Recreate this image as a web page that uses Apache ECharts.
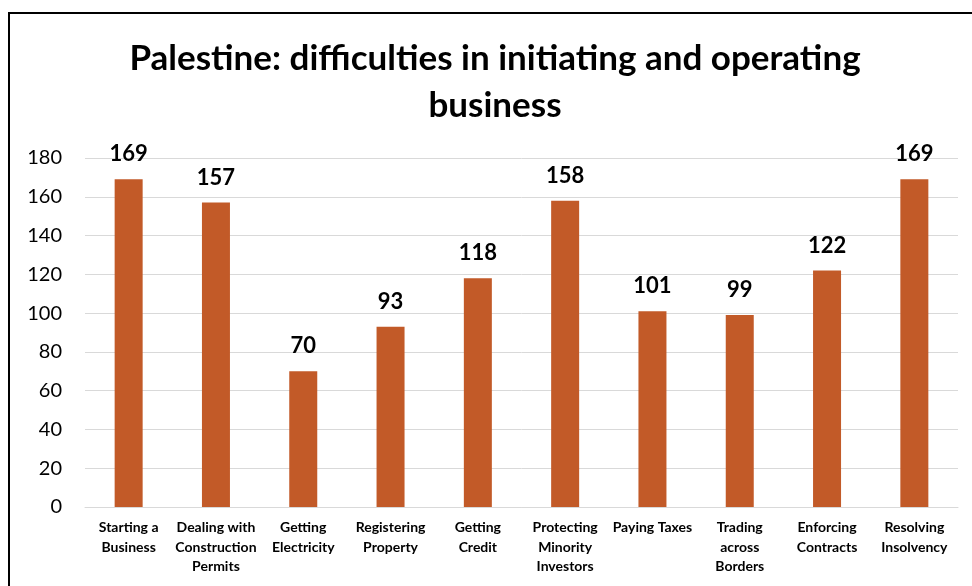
<!DOCTYPE html>
<html>
<head>
<meta charset="utf-8">
<script src="https://cdn.jsdelivr.net/npm/echarts@6/dist/echarts.min.js"></script>
<style>
  html, body { margin: 0; padding: 0; background: #ffffff; }
  #chart { width: 972px; height: 586px; }
</style>
</head>
<body>
<div id="chart"></div>
<script>
// Doing Business indicators (rank) for Palestine
const categories = [
  'Starting a\nBusiness',
  'Dealing with\nConstruction\nPermits',
  'Getting\nElectricity',
  'Registering\nProperty',
  'Getting\nCredit',
  'Protecting\nMinority\nInvestors',
  'Paying Taxes',
  'Trading\nacross\nBorders',
  'Enforcing\nContracts',
  'Resolving\nInsolvency'
];
const ranks = [169, 157, 70, 93, 118, 158, 101, 99, 122, 169];
const yTicks = [0, 20, 40, 60, 80, 100, 120, 140, 160, 180];

const FONT = 'Lato, "Open Sans", sans-serif';

const chart = echarts.init(document.getElementById('chart'), null, { renderer: 'canvas' });
chart.setOption({
  animation: false,
  backgroundColor: '#ffffff',
  title: {
    text: 'Palestine: difficulties in initiating and operating\nbusiness',
    left: 490,
    textAlign: 'center',
    top: 30,
    textStyle: {
      fontFamily: FONT,
      fontWeight: 'bold',
      fontSize: 35,
      lineHeight: 47,
      color: '#000000'
    }
  },
  graphic: [{
    type: 'rect',
    shape: { x: 9, y: 13, width: 1200, height: 1000 },
    style: { fill: 'none', stroke: '#000000', lineWidth: 2 },
    silent: true
  }],
  grid: { left: 85, right: 14, top: 158, bottom: 79 },
  xAxis: {
    type: 'category',
    data: categories,
    axisLine: { lineStyle: { color: '#D9D9D9', width: 1 } },
    axisTick: { show: false },
    axisLabel: {
      interval: 0,
      margin: 11,
      fontFamily: FONT,
      fontWeight: 'bold',
      fontSize: 14,
      lineHeight: 19.5,
      color: '#000000'
    }
  },
  yAxis: {
    type: 'value',
    min: yTicks[0],
    max: yTicks[yTicks.length - 1],
    interval: 20,
    axisLine: { show: false },
    axisTick: { show: false },
    splitLine: { lineStyle: { color: '#D9D9D9', width: 1 } },
    axisLabel: {
      margin: 23,
      fontFamily: FONT,
      fontSize: 20,
      color: '#000000'
    }
  },
  series: [{
    type: 'bar',
    data: ranks,
    barWidth: 28,
    itemStyle: { color: '#C25A28' },
    label: {
      show: true,
      position: 'top',
      distance: 14,
      fontFamily: FONT,
      fontWeight: 'bold',
      fontSize: 22,
      color: '#000000'
    }
  }]
});
</script>
</body>
</html>
